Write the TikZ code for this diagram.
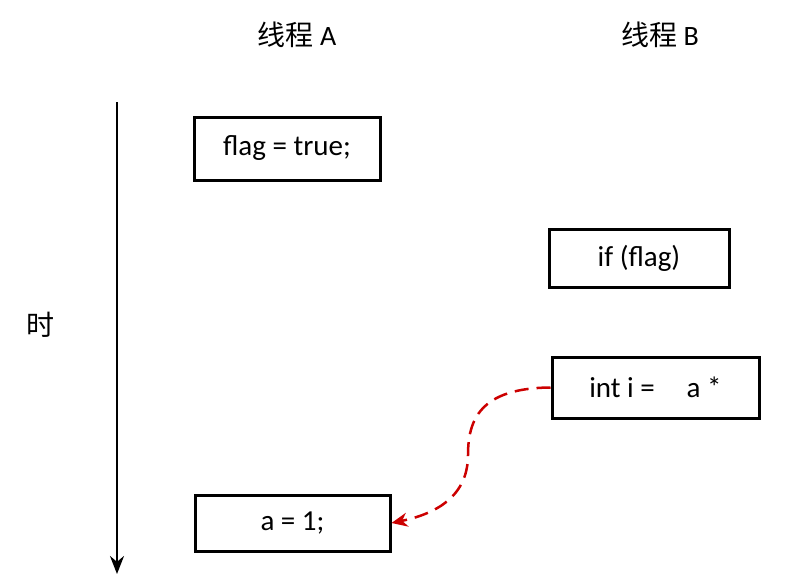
\documentclass[tikz,border=0pt]{standalone}
\usepackage{fontspec}
\setmainfont{Carlito}
\newfontfamily\cjk{Noto Sans CJK SC}
\usetikzlibrary{arrows.meta}
\begin{document}
\begin{tikzpicture}[x=1pt,y=-1pt,
  box/.style={draw,line width=3pt,minimum height=0pt,inner sep=0pt,font=\fontsize{29}{34}\selectfont},
  lbl/.style={font=\fontsize{28}{34}\selectfont}]
\useasboundingbox (0,0) rectangle (802,584);
\node[box,minimum width=186pt,minimum height=63pt] (f) at (287,148.5) {flag = true;};
\node[box,minimum width=180pt,minimum height=58pt] (g) at (639,258) {if (flag)};
\node[box,minimum width=207pt,minimum height=61pt] (i) at (655.5,387.5) {int i =\hspace{1.1em}a *};
\node[box,minimum width=195pt,minimum height=56pt] (a) at (292.5,523) {a = 1;};
\node[lbl] (ta) at (297,35) {{\cjk 线程} A};
\node[lbl] (tb) at (660,35) {{\cjk 线程} B};
\node[lbl] (t) at (40,325) {\cjk 时};
\coordinate (s) at (117,102);
\coordinate (e) at (117,574);
\draw[line width=2.5pt,-{Stealth[length=18pt,width=14pt]}] (s) -- (e);
\draw[red!80!black,line width=2.5pt,dash pattern=on 14pt off 8pt,-{Stealth[length=16pt,width=14pt]}]
  (i.west) .. controls (480,388) and (468,420) .. (468,455) .. controls (468,500) and (430,515) .. (a.east);
\end{tikzpicture}
\end{document}
